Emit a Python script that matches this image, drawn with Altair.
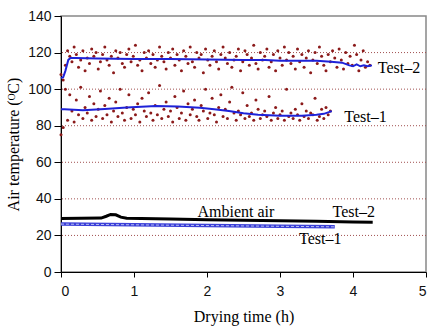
import altair as alt
import pandas as pd

# Measured air temperature (scatter), sampled every 0.03 h
test2_vals = [108, 105, 113, 121, 118, 115, 123, 119, 112, 116,
              121, 110, 117, 114, 122, 118, 120, 111, 115, 119,
              123, 116, 113, 118, 109, 121, 117, 120, 114, 112,
              119, 122, 115, 118, 124, 113, 116, 110, 120, 117,
              121, 114, 119, 112, 116, 123, 118, 115, 111, 120,
              117, 122, 113, 119, 116, 110, 121, 118, 114, 123,
              115, 112, 120, 117, 119, 109, 122, 116, 113, 118,
              121, 115, 111, 119, 123, 117, 114, 120, 112, 116,
              118, 122, 110, 115, 121, 119, 113, 117, 124, 114,
              111, 120, 116, 118, 122, 112, 115, 119, 110, 121,
              117, 113, 123, 116, 120, 114, 118, 111, 122, 115,
              119, 112, 117, 121, 109, 116, 120, 114, 123, 118,
              113, 110, 119, 115, 121, 117, 112, 122, 116, 111,
              120, 114, 118, 113, 124, 119, 110, 116, 121, 112,
              115, 113]
test1_vals = [75, 79, 100, 83, 97, 88, 82, 94, 86, 101,
              84, 90, 87, 96, 83, 92, 85, 89, 99, 84,
              91, 86, 95, 82, 88, 93, 85, 100, 87, 83,
              90, 97, 84, 89, 86, 92, 82, 95, 88, 85,
              98, 87, 83, 91, 86, 102, 84, 89, 93, 85,
              88, 82, 96, 90, 84, 87, 99, 83, 92, 86,
              89, 94, 85, 83, 91, 88, 100, 84, 87, 95,
              86, 82, 90, 97, 85, 89, 84, 93, 101, 87,
              83, 88, 86, 98, 84, 91, 85, 87, 83, 94,
              89, 84, 86, 88, 85, 96, 83, 87, 90, 84,
              86, 88, 83, 100, 85, 87, 84, 89, 86, 83,
              92, 85, 88, 84, 87, 86, 95, 83, 85, 89,
              84, 90, 86, 88]
STEP = 0.03

# Smoothed drying-air temperature
t2_line_t = [0, 0.03, 0.06, 0.1, 0.13, 0.2, 0.5, 1.0, 1.5, 2.0, 2.5, 2.8, 3.0, 3.3,
             3.5, 3.7, 3.85, 3.95, 4.0, 4.05, 4.1, 4.15, 4.2, 4.26]
t2_line_v = [106, 106.5, 110, 116, 117, 117, 116.8, 116.5, 116.5, 116.2, 116, 116,
             115.5, 115.5, 115.5, 115, 114.5, 113, 112.5, 113.5, 112.5, 113, 112.5, 113]
t1_line_t = [0, 0.05, 0.3, 0.6, 0.9, 1.3, 1.6, 1.9, 2.1, 2.3, 2.5, 2.7, 3.0, 3.3,
             3.5, 3.6, 3.71]
t1_line_v = [89, 89, 88.5, 89.2, 90, 90.8, 90.5, 89.8, 89, 88, 86.8, 86, 85.5,
             85.5, 86, 86.5, 88]

# Ambient air temperature
amb2_t = [0, 0.55, 0.62, 0.68, 0.75, 0.82, 0.9, 1.5, 2.0, 2.5, 3.0, 3.5, 4.0, 4.27]
amb2_v = [29.3, 29.5, 30.5, 31.5, 31.3, 30, 29.4, 29, 28.6, 28.3, 28, 27.8, 27.4, 27.2]
amb1_t = [0, 1, 2, 3, 3.75]
amb1_v = [26.2, 25.8, 25.4, 25, 24.7]

grid_vals = [20, 40, 60, 80, 100, 120]

labels = ["Test\u20132", "Test\u20131", "Ambient air", "Test\u20132", "Test\u20131"]
label_x = [4.34, 3.88, 1.87, 3.72, 3.26]
label_y = [111.5, 85, 33, 32.6, 18]

SERIF = "Liberation Serif"
SANS = "Liberation Sans"
BLUE = "#1E22D8"
DOT = "#8B1A1A"

scatter_df = pd.DataFrame({
    "t": [round(i * STEP, 2) for i in range(len(test2_vals))]
         + [round(i * STEP, 2) for i in range(len(test1_vals))],
    "v": test2_vals + test1_vals,
    "test": ["Test-2"] * len(test2_vals) + ["Test-1"] * len(test1_vals),
})
line_df = pd.DataFrame({
    "t": t2_line_t + t1_line_t,
    "v": t2_line_v + t1_line_v,
    "test": ["Test-2"] * len(t2_line_t) + ["Test-1"] * len(t1_line_t),
})
amb2_df = pd.DataFrame({"t": amb2_t, "v": amb2_v})
amb1_df = pd.DataFrame({"t": amb1_t, "v": amb1_v})
grid_df = pd.DataFrame({"v": grid_vals})
label_df = pd.DataFrame({"label": labels, "t": label_x, "v": label_y})

x_scale = alt.Scale(domain=[0, 5], nice=False, zero=False)
y_scale = alt.Scale(domain=[0, 140], nice=False)

x_axis = alt.Axis(title="Drying time (h)", values=[0, 1, 2, 3, 4, 5], format="d",
                  grid=False, tickSize=5, labelPadding=7, titlePadding=10,
                  labelOverlap=False)
y_axis = alt.Axis(title="Air temperature (\u1d3cC)", values=list(range(0, 141, 20)),
                  grid=False, tickSize=7, labelPadding=3, titlePadding=6,
                  labelOverlap=False)

X = alt.X("t:Q", scale=x_scale, axis=x_axis)
Y = alt.Y("v:Q", scale=y_scale, axis=y_axis)

dots = alt.Chart(scatter_df).mark_circle(size=9, color=DOT, opacity=1).encode(
    x=X, y=Y, detail="test:N")

grid = alt.Chart(grid_df).mark_rule(color="#A05050", strokeDash=[1, 2],
                                    strokeWidth=1).encode(y=Y)

lines = alt.Chart(line_df).mark_line(color=BLUE, strokeWidth=2).encode(
    x=X, y=Y, detail="test:N")

amb2 = alt.Chart(amb2_df).mark_line(color="black", strokeWidth=3).encode(x=X, y=Y)
amb1 = alt.Chart(amb1_df).mark_line(color="#3B3FD8", strokeWidth=3.5).encode(x=X, y=Y)
amb1_in = alt.Chart(amb1_df).mark_line(color="#B8C0F0", strokeWidth=1,
                                       strokeDash=[3, 2]).encode(x=X, y=Y)

texts = alt.Chart(label_df).mark_text(font=SERIF, fontSize=16, align="left",
                                      baseline="middle", color="black").encode(
    x=X, y=Y, text="label:N")

chart = alt.layer(grid, dots, lines, amb2, amb1, amb1_in, texts).properties(
    width=365, height=256,
    autosize=alt.AutoSizeParams(type="none"),
    padding={"left": 61, "top": 16, "right": 4, "bottom": 54},
    background="white",
).configure_view(
    stroke="#888888", strokeWidth=1.5
).configure_axis(
    domainColor="black", domainWidth=1, tickColor="black", tickWidth=1,
    labelFont=SANS, labelFontSize=14, labelColor="#111111",
    titleFont=SERIF, titleFontSize=16, titleFontWeight="normal", titleColor="black",
)

chart.save("out.html", embed_options={"renderer": "svg", "actions": False})
